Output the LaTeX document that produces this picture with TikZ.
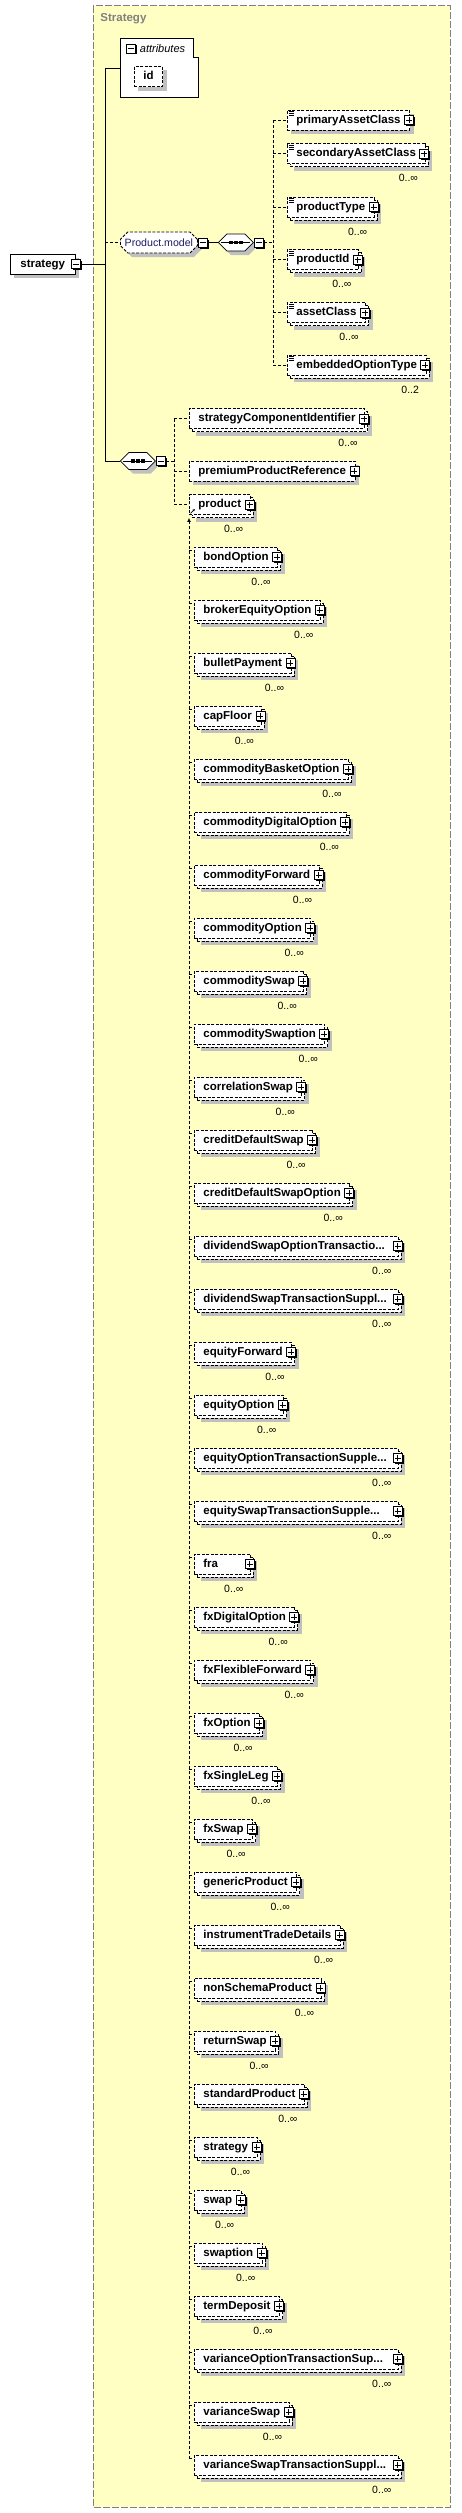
\documentclass[tikz,border=0pt]{standalone}
\usepackage{fontspec}
\setmainfont{Liberation Sans}
\usetikzlibrary{arrows.meta,shapes.misc,shadows}
\definecolor{panelfill}{RGB}{255,255,196}
\definecolor{panelframe}{RGB}{128,128,128}
\definecolor{shade}{RGB}{192,192,192}
\definecolor{groupink}{RGB}{28,28,96}

\begin{document}
\begin{tikzpicture}[x=1pt,y=-1pt,>=Latex,line width=0.8pt,
  namefont/.style={font=\fontsize{11.5}{13}\selectfont\bfseries},
  dashbox/.style={dash pattern=on 3pt off 1.5pt},
  link/.style={dash pattern=on 3pt off 2pt},
  boxbase/.style={draw,fill=white,dashbox,anchor=west,minimum height=20pt,
    inner xsep=9pt,inner ysep=0pt,text height=8.5pt,text depth=2.5pt,namefont},
  elem/.style={boxbase,general shadow={draw=none,fill=shade,shadow xshift=4pt,shadow yshift=-4pt}},
  multibox/.style={boxbase,general shadow={draw=none,fill=shade,shadow xshift=7pt,shadow yshift=-7pt},
    general shadow={draw=black,fill=white,dashbox,shadow xshift=3pt,shadow yshift=-3pt}},
  widebox/.style={multibox,text width=186pt,align=left},
  narrowbox/.style={multibox,text width=38pt,align=left},
  togglebox/.style={draw,solid,fill=white,line width=0.7pt,minimum size=9pt,inner sep=0pt,
    general shadow={draw=none,fill=black,shadow xshift=1.5pt,shadow yshift=-1.5pt}},
  plusbox/.style={togglebox,path picture={
    \draw[line width=0.7pt] ([xshift=-3pt]path picture bounding box.center) -- ([xshift=3pt]path picture bounding box.center);
    \draw[line width=0.7pt] ([yshift=-3pt]path picture bounding box.center) -- ([yshift=3pt]path picture bounding box.center);}},
  minusbox/.style={togglebox,path picture={
    \draw[line width=0.7pt] ([xshift=-3pt]path picture bounding box.center) -- ([xshift=3pt]path picture bounding box.center);}},
  seqbox/.style={chamfered rectangle,chamfered rectangle xsep=5pt,draw,solid,fill=white,anchor=west,
    text width=25pt,text height=5pt,text depth=5pt,inner sep=0pt,
    general shadow={draw=none,fill=shade,shadow xshift=4pt,shadow yshift=-4pt},
    path picture={
      \draw[black] ([xshift=3pt]path picture bounding box.west) -- ([xshift=-3pt]path picture bounding box.east);
      \foreach \dx in {-5,0,5}
        \fill[black] ([xshift=\dx pt]path picture bounding box.center) +(-1.6pt,-1.6pt) rectangle +(1.6pt,1.6pt);}},
  modelgroup/.style={chamfered rectangle,chamfered rectangle xsep=5pt,draw,fill=white,dashbox,anchor=west,
    minimum width=77pt,minimum height=21pt,inner sep=0pt,text=groupink,
    font=\fontsize{10.6}{13}\selectfont,
    general shadow={draw=none,fill=shade,shadow xshift=4pt,shadow yshift=-4pt}},
  occ/.style={font=\fontsize{10.5}{12}\selectfont,inner sep=0pt,anchor=east}]

 \fill[white] (0,0) rectangle (461,2513);
 \useasboundingbox (0,0) rectangle (461,2513);
 \draw[panelframe,fill=panelfill,line width=1pt,dash pattern=on 7pt off 2pt] (93,6) rectangle (450,2507);
 \node[anchor=west,text=panelframe,namefont,inner sep=0pt] (paneltitle) at (100,19) {Strategy};

 \node[elem,inner xsep=10pt,solid] (root) at (10,264) {strategy\hspace{2pt}};
 \node[minusbox] (root-minus) at (root.east) {};

 \draw[fill=white] (120,38) -- (193,38) -- (193,57) -- (198,57) -- (198,97) -- (120,97) -- cycle;
 \node[minusbox] (attr-minus) at (131,48.5) {};
 \node[anchor=west,inner sep=0pt,font=\fontsize{11}{13}\selectfont\itshape] (attr-title) at (139.5,48.5) {attributes};
 \node[elem] (attr-id) at (134,76.5) {id\hspace{24pt}};
 \coordinate (attr-in) at (120,68);

 \node[modelgroup] (model) at (120,242.5) {Product.model};
 \node[minusbox] (model-minus) at ([xshift=5.5pt]model.east) {};
 \node[seqbox] (model-seq) at (218,242.5) {};
 \node[minusbox] (model-seq-minus) at ([xshift=5.5pt]model-seq.east) {};

 \node[elem] (pac) at (287,120) {primaryAssetClass\hspace{4pt}};
 \node[multibox] (sac) at (287,153.5) {secondaryAssetClass\hspace{4pt}};
 \node[multibox] (ptype) at (287,207) {productType\hspace{4pt}};
 \node[multibox] (pid) at (287,259.5) {productId\hspace{4pt}};
 \node[multibox] (acls) at (287,312.5) {assetClass\hspace{4pt}};
 \node[multibox] (eot) at (287,365) {embeddedOptionType\hspace{4pt}};
 \foreach \n/\o in {sac/0..∞,ptype/0..∞,pid/0..∞,acls/0..∞,eot/0..2}
  \node[occ] (\n-occ) at ([xshift=-7pt,yshift=-14pt]\n.south east) {\o};

 \node[seqbox] (main-seq) at (120,461) {};
 \node[minusbox] (main-seq-minus) at ([xshift=5.5pt]main-seq.east) {};
 \node[multibox] (sci) at (189,418.5) {strategyComponentIdentifier\hspace{4pt}};
 \node[elem] (ppr) at (189,471) {premiumProductReference\hspace{4pt}};
 \node[multibox] (product) at (189,504.5) {product\hspace{4pt}};
 \node[occ] (sci-occ) at ([xshift=-7pt,yshift=-14pt]sci.south east) {0..∞};
 \node[occ] (product-occ) at ([xshift=-7pt,yshift=-14pt]product.south east) {0..∞};
 \draw[solid,line width=0.7pt,-{Latex[length=2.5pt,width=2.5pt]}] ([shift={(1.5pt,1.5pt)}]product.south west) -- ++(4.5pt,4.5pt);

 \foreach \n in {pac,sac,ptype,pid,acls,eot,sci,ppr,product}
  \node[plusbox] (\n-plus) at ([xshift=-1pt]\n.east) {};
 \foreach \n in {pac,sac,ptype,pid,acls,eot}
  \foreach \dy in {2,4,6}
   \draw[solid,line width=0.6pt] ([shift={(2pt,-\dy pt)}]\n.north west) -- ++(4.5pt,0pt);

 \foreach \lab/\sty [count=\i from 0] in {bondOption/multibox,brokerEquityOption/multibox,bulletPayment/multibox,
   capFloor/multibox,commodityBasketOption/multibox,commodityDigitalOption/multibox,commodityForward/multibox,
   commodityOption/multibox,commoditySwap/multibox,commoditySwaption/multibox,correlationSwap/multibox,
   creditDefaultSwap/multibox,creditDefaultSwapOption/multibox,{dividendSwapOptionTransactio...}/widebox,
   {dividendSwapTransactionSuppl...}/widebox,equityForward/multibox,equityOption/multibox,
   {equityOptionTransactionSupple...}/widebox,{equitySwapTransactionSupple...}/widebox,fra/narrowbox,
   fxDigitalOption/multibox,fxFlexibleForward/multibox,fxOption/multibox,fxSingleLeg/multibox,fxSwap/multibox,
   genericProduct/multibox,instrumentTradeDetails/multibox,nonSchemaProduct/multibox,returnSwap/multibox,
   standardProduct/multibox,strategy/multibox,swap/multibox,swaption/multibox,termDeposit/multibox,
   {varianceOptionTransactionSup...}/widebox,varianceSwap/multibox,{varianceSwapTransactionSuppl...}/widebox} {
  \pgfmathsetmacro\yy{557+53*\i}
  \node[\sty] (sub\i) at (194,\yy) {\lab\hspace{4pt}};
  \node[plusbox] (sub\i-plus) at ([xshift=-1pt]sub\i.east) {};
  \node[occ] (sub\i-occ) at ([xshift=-7pt,yshift=-14pt]sub\i.south east) {0..∞};
  \draw[link] ([yshift=-4pt]sub\i.north west -| product.south west) -- ([yshift=-4pt]sub\i.north west);
 }

 \coordinate (trunk) at (105,264);
 \draw (root-minus.east) -- (trunk);
 \draw (trunk) |- (attr-in);
 \draw (trunk) |- (main-seq.west);
 \draw[link] (trunk |- model.west) -- (model.west);
 \draw (model-minus.east) -- (model-seq.west);

 \coordinate (model-bus) at (273,242.5);
 \draw[link] (model-seq-minus.east) -- (model-bus);
 \draw[link] (model-bus |- pac.west) -- (model-bus |- eot.west);
 \foreach \n in {pac,sac,ptype,pid,acls,eot}
  \draw[link] (model-bus |- \n.west) -- (\n.west);

 \coordinate (main-bus) at (174,461);
 \draw[link] (main-seq-minus.east) -- (main-bus);
 \draw[link] (main-bus |- sci.west) -- (main-bus |- product.west);
 \foreach \n in {sci,ppr,product}
  \draw[link] (main-bus |- \n.west) -- (\n.west);

 \draw[link,-{Latex[length=4pt,width=4pt]}] ([yshift=-4pt]sub36.north west -| product.south west) -- ([yshift=-3pt]product.south west);
\end{tikzpicture}
\end{document}
